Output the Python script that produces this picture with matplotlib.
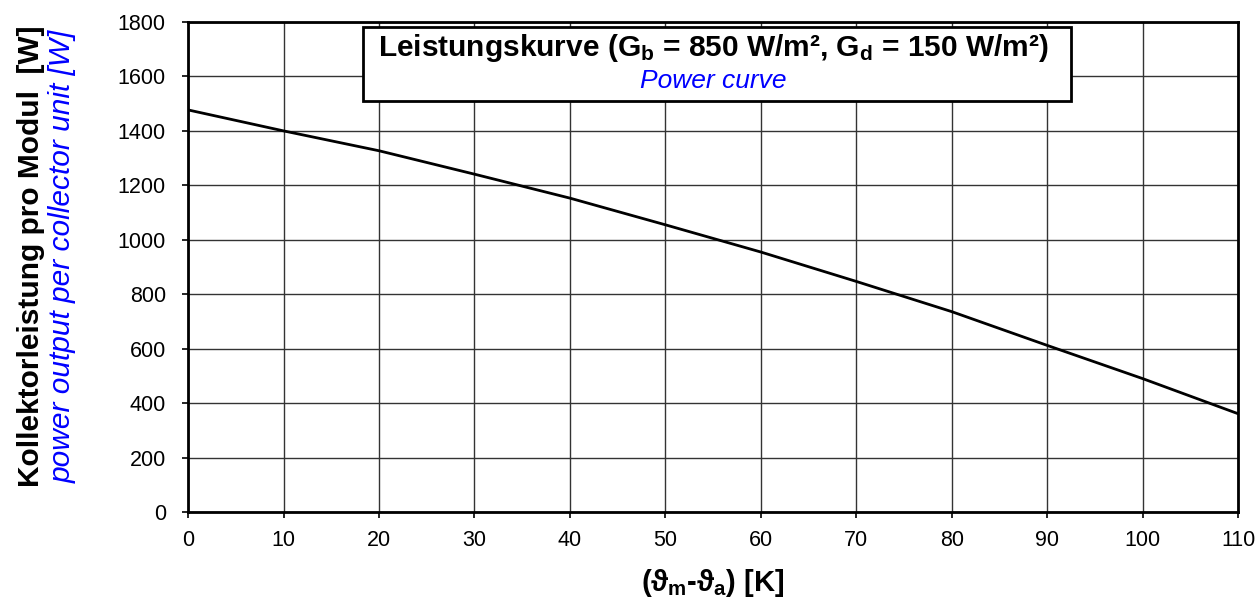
import numpy as np
import matplotlib
matplotlib.use("Agg")
import matplotlib.pyplot as plt

plt.rcParams['font.family'] = ['Liberation Sans', 'DejaVu Sans']
plt.rcParams['mathtext.fontset'] = 'custom'
plt.rcParams['mathtext.rm'] = 'Liberation Sans'
plt.rcParams['mathtext.bf'] = 'Liberation Sans:bold'
plt.rcParams['mathtext.it'] = 'Liberation Sans:italic'

# Daten
temp_diff = [0, 10, 20, 30, 40, 50, 60, 70, 80, 90, 100, 110]
power = [1477, 1400, 1327, 1241, 1153, 1055, 955, 847, 736, 612, 490, 361]
x_ticks = list(range(0, 111, 10))
y_ticks = list(range(0, 1801, 200))

fig = plt.figure(figsize=(12.57, 6.04), dpi=100)
fig.patch.set_facecolor('white')
ax = fig.add_axes([0.1496, 0.1523, 0.8354, 0.8113])

ax.plot(temp_diff, power, color='black', linewidth=2.0, zorder=3)

ax.set_xlim(0, 110)
ax.set_ylim(0, 1800)
ax.set_xticks(x_ticks)
ax.set_yticks(y_ticks)
ax.grid(True, color='#333333', linewidth=1.0)
ax.set_axisbelow(True)
for s in ax.spines.values():
    s.set_linewidth(2.0)
    s.set_color('black')
ax.tick_params(axis='both', direction='out', length=4, width=1.2, labelsize=15.5,
               colors='black')
ax.tick_params(axis='x', pad=9)
ax.tick_params(axis='y', pad=12)

# Titelbox
ax.text(0.5, 0.947, 'Leistungskurve (G$_{\\mathbf{b}}$ = 850 W/m², G$_{\\mathbf{d}}$ = 150 W/m²)',
        transform=ax.transAxes, ha='center', va='center', fontsize=21.5, fontweight='bold',
        zorder=5)
ax.text(0.5, 0.88, 'Power curve', transform=ax.transAxes, ha='center', va='center',
        fontsize=19, style='italic', color='blue', zorder=5)
box = plt.Rectangle((0.167, 0.838), 0.674, 0.152, transform=ax.transAxes,
                    facecolor='white', edgecolor='black', linewidth=2.0, zorder=4)
ax.add_patch(box)

# Achsentitel
fig.text(0.025, 0.575, 'Kollektorleistung pro Modul  [W]', rotation=90, ha='center',
         va='center', fontsize=21.5, fontweight='bold')
fig.text(0.05, 0.575, 'power output per collector unit [W]', rotation=90, ha='center',
         va='center', fontsize=21.5, style='italic', color='blue')
fig.text(0.567, 0.035, '(ϑ$_{\\mathbf{m}}$-ϑ$_{\\mathbf{a}}$) [K]', ha='center', va='center',
         fontsize=21, fontweight='bold')

plt.savefig('out.png', dpi=100, facecolor='white')
plt.close()
